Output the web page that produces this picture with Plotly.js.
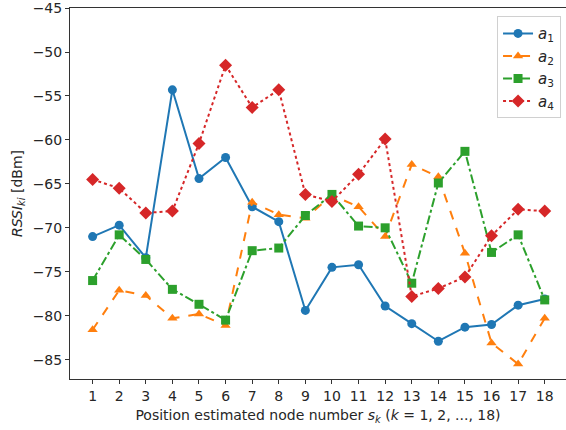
<!DOCTYPE html>
<html>
<head>
<meta charset="utf-8">
<script src="https://cdn.plot.ly/plotly-3.0.1.min.js"></script>
<style>html,body{margin:0;padding:0;background:#fff;}#chart{width:566px;height:430px;}</style>
</head>
<body>
<div id="chart"></div>
<script>
const nodes = [1,2,3,4,5,6,7,8,9,10,11,12,13,14,15,16,17,18];
const a1 = [-71.0,-69.7,-73.4,-54.3,-64.4,-62.0,-67.6,-69.3,-79.4,-74.5,-74.2,-78.9,-80.9,-82.9,-81.3,-81.0,-78.8,-78.1];
const a2 = [-81.6,-77.1,-77.7,-80.3,-79.8,-81.1,-67.1,-68.5,-68.9,-66.3,-67.6,-71.0,-62.8,-64.2,-72.9,-83.1,-85.5,-80.3];
const a3 = [-76.0,-70.8,-73.6,-77.0,-78.7,-80.5,-72.6,-72.3,-68.6,-66.2,-69.8,-70.0,-76.3,-64.9,-61.3,-72.8,-70.8,-78.2];
const a4 = [-64.5,-65.5,-68.3,-68.1,-60.4,-51.5,-56.3,-54.3,-66.2,-67.0,-63.9,-59.9,-77.8,-76.9,-75.6,-70.9,-67.9,-68.1];
const names = ['<i>a</i><sub>1</sub>','<i>a</i><sub>2</sub>','<i>a</i><sub>3</sub>','<i>a</i><sub>4</sub>'];
const series = [a1,a2,a3,a4];
const colors = ['#1f77b4','#ff7f0e','#2ca02c','#d62728'];
const dashes = ['solid','dash','dashdot','dot'];
const symbols = ['circle','triangle-up','square','diamond'];
const sizes = [9,9,9,10];

const traces = series.map((s,i)=>({
  x: nodes, y: s, name: names[i], type:'scatter', mode:'lines+markers',
  line:{color:colors[i], width:2, dash:dashes[i]},
  marker:{color:colors[i], symbol:symbols[i], size:sizes[i]}
}));

const font = {family:'DejaVu Sans, sans-serif', size:14, color:'#262626'};
const layout = {
  width:566, height:430,
  margin:{l:70, r:0, t:8, b:51},
  paper_bgcolor:'#fff', plot_bgcolor:'#fff',
  font: font,
  showlegend:true,
  legend:{x:0.99, y:0.978, xanchor:'right', yanchor:'top', bgcolor:'rgba(255,255,255,0.8)',
          bordercolor:'#d0d0d0', borderwidth:1, font:{family:'DejaVu Sans, sans-serif', size:15, color:'#262626'}},
  xaxis:{range:[0.15,18.8], tickmode:'array', tickvals:nodes, ticktext:nodes.map(String),
         showgrid:false, zeroline:false, showline:true, linecolor:'#333', linewidth:1, mirror:true,
         ticks:'outside', ticklen:4, tickcolor:'#333', ticklabeloverflow:'allow',
         tickfont:{family:'DejaVu Sans, sans-serif', size:14, color:'#262626'},
         title:{text:'Position estimated node number <i>s</i><sub><i>k</i></sub> (<i>k</i> = 1, 2, ..., 18)', font:font, standoff:7}},
  yaxis:{range:[-87.2,-44.99], tickmode:'array', tickvals:[-85,-80,-75,-70,-65,-60,-55,-50,-45],
         showgrid:false, zeroline:false, showline:true, linecolor:'#333', linewidth:1, mirror:true,
         ticks:'outside', ticklen:4, tickcolor:'#333', ticklabeloverflow:'allow',
         tickfont:{family:'DejaVu Sans, sans-serif', size:14, color:'#262626'},
         title:{text:'<i>RSSI</i><sub><i>ki</i></sub> [dBm]', font:font, standoff:6}}
};
Plotly.newPlot('chart', traces, layout, {staticPlot:true, displayModeBar:false});
</script>
</body>
</html>
